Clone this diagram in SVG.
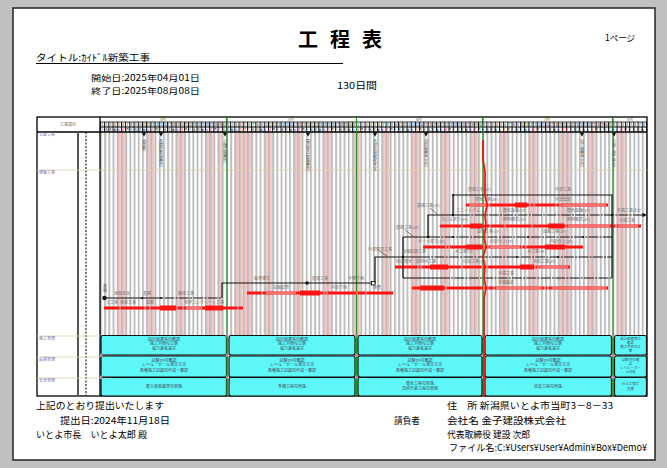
<svg xmlns="http://www.w3.org/2000/svg" width="667" height="468" viewBox="0 0 667 468">
<style>
text{font-family:"Noto Sans CJK JP","Noto Sans",sans-serif;}
.hd{font-size:9.5px;fill:#000;}
.hs{font-size:8.5px;fill:#000;}
.tn{font-size:4px;fill:#707070;}
.mn{font-size:3.3px;fill:#222;text-anchor:middle;font-family:"Liberation Sans",sans-serif;}
.wd{font-size:3.2px;fill:#222;letter-spacing:1px;}
.sa{fill:#2040ff;}
.su{fill:#ff2020;}
.net{fill:none;stroke:#111;stroke-width:1.2;}
.dsh{stroke-dasharray:10 1.2 2 1.2;}
.bar{fill:#ff1414;}
.gap{fill:#fff;}
.cy{fill:#5ef7f7;stroke:#111;stroke-width:1.2;}
.ct{font-size:4px;fill:#3a4a66;text-anchor:middle;}
.cs{font-size:3.4px;fill:#3a4a66;text-anchor:middle;}
.ms{writing-mode:vertical-rl;font-size:4px;fill:#555;}
.rl{font-size:4px;fill:#7a6aa0;}
.gl{stroke:#1e9a1e;stroke-width:1.2;}
.bg{stroke:#ddd2a8;stroke-width:0.8;}
.mk{fill:#9a9a9a;}
.nd{fill:#111;}
</style>
<defs>
<pattern id="pk" patternUnits="userSpaceOnUse" x="100" y="0" width="29.4" height="468"><rect x="16.8" y="0" width="8.4" height="468" fill="#f8c6c6"/></pattern>
<pattern id="dl" patternUnits="userSpaceOnUse" x="100" y="0" width="4.2" height="468"><rect x="0" y="0" width="1.9" height="468" fill="#bdbdbd"/></pattern>
<pattern id="cl" patternUnits="userSpaceOnUse" x="100" y="0" width="4.2" height="468"><rect x="0" y="0" width="0.9" height="468" fill="#000"/></pattern>
<text id="d30" class="mn"><tspan x="2.1">1</tspan><tspan x="6.3">2</tspan><tspan x="10.5">3</tspan><tspan x="14.7">4</tspan><tspan x="18.9">5</tspan><tspan x="23.1">6</tspan><tspan x="27.3">7</tspan><tspan x="31.5">8</tspan><tspan x="35.7">9</tspan><tspan x="39.9">10</tspan><tspan x="44.1">11</tspan><tspan x="48.3">12</tspan><tspan x="52.5">13</tspan><tspan x="56.7">14</tspan><tspan x="60.9">15</tspan><tspan x="65.1">16</tspan><tspan x="69.3">17</tspan><tspan x="73.5">18</tspan><tspan x="77.7">19</tspan><tspan x="81.9">20</tspan><tspan x="86.1">21</tspan><tspan x="90.3">22</tspan><tspan x="94.5">23</tspan><tspan x="98.7">24</tspan><tspan x="102.9">25</tspan><tspan x="107.1">26</tspan><tspan x="111.3">27</tspan><tspan x="115.5">28</tspan><tspan x="119.7">29</tspan><tspan x="123.9">30</tspan></text>
<g id="d31"><use href="#d30"/><text class="mn" x="128.1" y="0">31</text></g>
</defs>

<rect width="667" height="468" fill="#c0c0c0"/>
<rect x="13" y="8" width="642" height="452" fill="#fff" stroke="#222" stroke-width="1.5"/>

<g id="title">
<text x="298 330 362" y="47" font-size="20" font-weight="bold" fill="#000">工程表</text>
<text x="605" y="41" font-size="8.5" fill="#000">1ページ</text>
<text class="hd" x="36" y="61" font-size="9" textLength="114" lengthAdjust="spacingAndGlyphs">タイトル:ｶｲﾄﾞﾙ新築工事</text>
<line x1="36" y1="63.5" x2="343" y2="63.5" stroke="#000" stroke-width="1"/>
<text class="hs" x="91" y="81" textLength="109" lengthAdjust="spacingAndGlyphs">開始日:2025年04月01日</text>
<text class="hs" x="91" y="93.5" textLength="109" lengthAdjust="spacingAndGlyphs">終了日:2025年08月08日</text>
<text class="hd" x="337" y="88.5" textLength="40" lengthAdjust="spacingAndGlyphs">130日間</text>
</g>

<g id="chart-grid">
<rect x="100" y="132" width="547" height="264" fill="url(#pk)"/>
<rect x="217.6" y="132" width="4.2" height="264" fill="#f8c6c6"/>
<rect x="242.8" y="132" width="8.4" height="264" fill="#f8c6c6"/>
<rect x="566.2" y="132" width="4.2" height="264" fill="#f8c6c6"/>
<rect x="100" y="132" width="547" height="264" fill="url(#dl)"/>
</g>

<g id="header">
<rect x="100" y="122" width="547" height="10" fill="url(#cl)"/>
<line x1="100" y1="122" x2="647" y2="122" stroke="#000" stroke-width="0.8"/>
<line x1="100" y1="127" x2="647" y2="127" stroke="#000" stroke-width="1"/>
<line x1="37" y1="132" x2="647" y2="132" stroke="#000" stroke-width="1.3"/>
<path d="M226.5,117V122M356.5,117V122M482.5,117V122M612.7,117V122" stroke="#000" stroke-width="0.8"/>
<text class="tn" x="163" y="121" text-anchor="middle">4月</text>
<text class="tn" x="291" y="121" text-anchor="middle">5月</text>
<text class="tn" x="419" y="121" text-anchor="middle">6月</text>
<text class="tn" x="547" y="121" text-anchor="middle">7月</text>
<text class="tn" x="630" y="121" text-anchor="middle">8月</text>
<use href="#d30" x="100" y="126"/>
<use href="#d31" x="226" y="126"/>
<use href="#d30" x="356.2" y="126"/>
<use href="#d31" x="482.2" y="126"/>
<text class="mn" y="126"><tspan x="614.5">1</tspan><tspan x="618.7">2</tspan><tspan x="622.9">3</tspan><tspan x="627.1">4</tspan><tspan x="631.3">5</tspan><tspan x="635.5">6</tspan><tspan x="639.7">7</tspan><tspan x="643.9">8</tspan></text>
<text class="wd" x="100.5" y="131">火水木金<tspan class="sa">土</tspan><tspan class="su">日</tspan>月火水木金<tspan class="sa">土</tspan><tspan class="su">日</tspan>月火水木金<tspan class="sa">土</tspan><tspan class="su">日</tspan>月火水木金<tspan class="sa">土</tspan><tspan class="su">日</tspan>月<tspan class="su">火</tspan>水木金<tspan class="sa">土</tspan><tspan class="su">日</tspan><tspan class="su">月</tspan><tspan class="su">火</tspan>水木金<tspan class="sa">土</tspan><tspan class="su">日</tspan>月火水木金<tspan class="sa">土</tspan><tspan class="su">日</tspan>月火水木金<tspan class="sa">土</tspan><tspan class="su">日</tspan>月火水木金<tspan class="sa">土</tspan><tspan class="su">日</tspan>月火水木金<tspan class="sa">土</tspan><tspan class="su">日</tspan>月火水木金<tspan class="sa">土</tspan><tspan class="su">日</tspan>月火水木金<tspan class="sa">土</tspan><tspan class="su">日</tspan>月火水木金<tspan class="sa">土</tspan><tspan class="su">日</tspan>月火水木金<tspan class="sa">土</tspan><tspan class="su">日</tspan>月火水木金<tspan class="sa">土</tspan><tspan class="su">日</tspan>月火水木金<tspan class="sa">土</tspan><tspan class="su">日</tspan><tspan class="su">月</tspan>火水木金<tspan class="sa">土</tspan><tspan class="su">日</tspan>月火水木金<tspan class="sa">土</tspan><tspan class="su">日</tspan>月火水木金</text>
</g>

<g id="frame">
<rect x="37" y="117" width="610" height="279" fill="none" stroke="#000" stroke-width="1.3"/>
<line x1="100" y1="117" x2="100" y2="396" stroke="#000" stroke-width="1.3"/>
<line x1="78" y1="132" x2="78" y2="396" stroke="#555" stroke-width="2"/>
<line x1="86" y1="132" x2="86" y2="396" stroke="#222" stroke-width="1.2" stroke-dasharray="2 1.5"/>
<text class="tn" x="68" y="126" text-anchor="middle">工事項目</text>
<path class="bg" d="M37,170H647M37,336H100M37,357H100M37,378H100"/>
<text class="rl" x="39" y="136">主要工程</text>
<text class="rl" x="39" y="174">建築工事</text>
<text class="rl" x="39" y="340">施工管理</text>
<text class="rl" x="39" y="361">品質管理</text>
<text class="rl" x="39" y="382">安全管理</text>
<path class="gl" d="M227,117V396M356.5,117V396M483,117V396M613,117V396"/>
</g>

<g id="milestones">
<g id="ms1"><polygon class="nd" points="141.8,132.5 146.2,132.5 144,136.8"/><text class="ms" x="144" y="139">地鎮祭</text></g>
<g id="ms2"><polygon class="nd" points="158.8,132.5 163.2,132.5 161,136.8"/><text class="ms" x="161" y="139">基礎配筋検査日</text></g>
<g id="ms3"><polygon class="nd" points="222.8,132.5 227.2,132.5 225,136.8"/><text class="ms" x="225" y="139">上棟式検査日</text></g>
<g id="ms4"><polygon class="nd" points="305.8,132.5 310.2,132.5 308,136.8"/><text class="ms" x="308" y="139">構造体中間検査日</text></g>
<g id="ms5"><polygon class="nd" points="372.8,132.5 377.2,132.5 375,136.8"/><text class="ms" x="375" y="139">外部足場解体予定</text></g>
<g id="ms6"><polygon class="nd" points="423.8,132.5 428.2,132.5 426,136.8"/><text class="ms" x="426" y="139">消防検査予定日</text></g>
<g id="ms7"><polygon class="nd" points="579.8,132.5 584.2,132.5 582,136.8"/><text class="ms" x="582" y="139">完了検査予定日</text></g>
<g id="ms8"><polygon class="nd" points="611.8,132.5 616.2,132.5 614,136.8"/><text class="ms" x="614" y="139">引渡し竣工予定</text></g>
</g>

<g id="bars">
<g id="bar1"><rect class="bar" x="104" y="306.5" width="139" height="3"/><rect class="bar" x="160" y="305.5" width="16" height="5"/><rect class="bar" x="205" y="305.5" width="18" height="5"/><path d="M120,306.5v3M145,306.5v3M150,306.5v3M177,306.5v3M183,306.5v3M238,306.5v3" stroke="#fff" stroke-width="0.8"/><rect class="gap" x="186" y="307.6" width="16" height="0.8"/></g>
<g id="bar2"><rect class="bar" x="247" y="291.5" width="146" height="3"/><rect class="bar" x="300" y="290.5" width="20" height="5"/><path d="M262,291.5v3M324,291.5v3M327,291.5v3M357,291.5v3M366,291.5v3" stroke="#fff" stroke-width="0.8"/><rect class="gap" x="266" y="292.6" width="30" height="0.8"/></g>
<g id="bar3"><rect class="bar" x="395" y="265.5" width="175" height="3"/><rect class="bar" x="430" y="264.5" width="18" height="5"/><rect class="bar" x="520" y="264.5" width="14" height="5"/><path d="M418,265.5v3M421,265.5v3M462,265.5v3M482,265.5v3M487,265.5v3M535,265.5v3M538,265.5v3" stroke="#fff" stroke-width="0.8"/><rect class="gap" x="540" y="266.6" width="28" height="0.8"/></g>
<g id="bar4"><rect class="bar" x="423" y="245.5" width="160" height="3"/><rect class="bar" x="466" y="244.5" width="16" height="5"/><rect class="bar" x="545" y="244.5" width="20" height="5"/><path d="M446,245.5v3M449,245.5v3M484,245.5v3M488,245.5v3M522,245.5v3M526,245.5v3" stroke="#fff" stroke-width="0.8"/><rect class="gap" x="490" y="246.6" width="30" height="0.8"/></g>
<g id="bar5"><rect class="bar" x="440" y="224.5" width="201" height="3"/><rect class="bar" x="470" y="223.5" width="12" height="5"/><rect class="bar" x="548" y="223.5" width="16" height="5"/><path d="M462,224.5v3M486,224.5v3M490,224.5v3M505,224.5v3M532,224.5v3M566,224.5v3M612,224.5v3M616,224.5v3" stroke="#fff" stroke-width="0.8"/><rect class="gap" x="568" y="225.6" width="42" height="0.8"/><rect class="gap" x="618" y="225.6" width="20" height="0.8"/></g>
<g id="bar6"><rect class="bar" x="466" y="203.5" width="142" height="3"/><rect class="bar" x="515" y="202.5" width="12" height="5"/><path d="M470,203.5v3M486,203.5v3M489,203.5v3M530,203.5v3M534,203.5v3M556,203.5v3M560,203.5v3" stroke="#fff" stroke-width="0.8"/><rect class="gap" x="471" y="204.6" width="14" height="0.8"/><rect class="gap" x="562" y="204.6" width="44" height="0.8"/></g>
<g id="bar7"><rect class="bar" x="412" y="286.5" width="196" height="3"/><rect class="bar" x="420" y="285.5" width="24" height="5"/><path d="M446,286.5v3M484,286.5v3M488,286.5v3M494,286.5v3M545,286.5v3M548,286.5v3" stroke="#fff" stroke-width="0.8"/><rect class="gap" x="496" y="287.6" width="46" height="0.8"/><rect class="gap" x="552" y="287.6" width="54" height="0.8"/></g>
</g>

<g id="connectors">
<path class="net" d="M104,298H150M222,298V283H375V257H420M403,237V278M403,237H430M428,237V215H460M453,215V195H612V278M403,278H440"/>
<path class="net dsh" d="M150,298H222M420,257H612M430,237H612M460,215H645M440,278H612"/>
<polygon class="nd" points="642.5,212.8 647,215 642.5,217.2"/>
<circle class="nd" cx="104.5" cy="298" r="2.2"/>
<circle class="nd" cx="142" cy="298" r="1.1"/>
<circle class="nd" cx="161" cy="298" r="1.1"/>
<rect class="nd" x="305.5" y="281.5" width="3" height="3"/>
<rect x="371.5" y="281.5" width="3.5" height="3.5" fill="#fff" stroke="#111" stroke-width="0.9"/>
<circle class="nd" cx="403" cy="257" r="1.3"/>
<circle class="nd" cx="428" cy="237" r="1.3"/>
<circle class="nd" cx="453" cy="237" r="1.1"/>
<circle class="nd" cx="528" cy="237" r="1.1"/>
<circle class="nd" cx="583" cy="237" r="1.1"/>
<circle class="nd" cx="453" cy="215" r="1.3"/>
<circle class="nd" cx="612" cy="215" r="1.1"/>
<circle class="nd" cx="517" cy="257" r="1"/>
<circle class="nd" cx="558" cy="257" r="1"/>
<circle class="nd" cx="453" cy="195" r="1.1"/>
<path d="M430,208L437,214M405,230L413,236M379,251L387,256" stroke="#333" stroke-width="0.6"/>
</g>

<g id="task-labels">
<text class="ms" x="105" y="284">準備</text>
<text class="tn" x="114" y="295">地盤改良</text>
<text class="tn" x="143" y="295">基礎</text>
<text class="tn" x="178" y="295">躯体工事</text>
<text class="tn" x="106" y="303.5">土工事</text>
<text class="tn" x="120" y="303.5">地業工事</text>
<text class="tn" x="146" y="303.5">配筋</text>
<text class="tn" x="184" y="303.5">型枠コンクリート工事</text>
<text class="tn" x="254" y="279.5">鉄骨建方</text>
<text class="tn" x="312" y="279.5">屋根工事</text>
<text class="tn" x="348" y="279.5">外壁下地</text>
<text class="tn" x="273" y="289">設備配管</text>
<text class="tn" x="331" y="289">内装下地</text>
<text class="tn" x="373" y="289">検査</text>
<text class="tn" x="368" y="250.5">外部建具工事</text>
<text class="tn" x="402" y="253">設備配線工事</text>
<text class="tn" x="396" y="262.5">仮設電気・給排水工事</text>
<text class="tn" x="455" y="253">木工事(1F)</text>
<text class="tn" x="527" y="253">木工事(2F)</text>
<text class="tn" x="463" y="262.5">内装工事(1F)</text>
<text class="tn" x="533" y="262.5">内装工事(2F)</text>
<text class="tn" x="396" y="229">屋根工事(2F)</text>
<text class="tn" x="477" y="233">設備工事(1F)</text>
<text class="tn" x="543" y="233">設備工事(2F)</text>
<text class="tn" x="418" y="242.5">ボード張り(1F)</text>
<text class="tn" x="490" y="242.5">内装仕上(1F)</text>
<text class="tn" x="550" y="242.5">内装仕上(2F)</text>
<text class="tn" x="417" y="206.5">基礎工事(1F)</text>
<text class="tn" x="456" y="211.5">ユニットバス</text>
<text class="tn" x="503" y="211.5">電気設備(1F)</text>
<text class="tn" x="567" y="211.5">電気設備(2F)</text>
<text class="tn" x="441" y="221">クロス張り(1F)</text>
<text class="tn" x="503" y="221">照明器具(1F)</text>
<text class="tn" x="567" y="221">照明器具(2F)</text>
<text class="tn" x="617" y="211.5">外構工事ほか</text>
<text class="tn" x="619" y="222">外構工事</text>
<text class="tn" x="468" y="191">屋根工事(1F)</text>
<text class="tn" x="555" y="191">外部工事</text>
<text class="tn" x="475" y="200.5">屋根工事(2F)</text>
<text class="tn" x="555" y="200.5">外部塗装</text>
<text class="tn" x="498" y="274.5">外構工事</text>
<text class="tn" x="498" y="283.5">外構舗装</text>
</g>

<g id="management">
<g id="row-sekou">
<rect class="cy" x="101" y="335.5" width="125.5" height="19.5" rx="2"/>
<rect class="cy" x="229" y="335.5" width="126" height="19.5" rx="2"/>
<rect class="cy" x="358" y="335.5" width="124" height="19.5" rx="2"/>
<rect class="cy" x="485" y="335.5" width="126.5" height="19.5" rx="2"/>
<rect class="cy" x="614.5" y="335.5" width="32" height="19.5" rx="2"/>
<text class="ct" x="164" y="340.5">設計図書等の確認</text><text class="ct" x="164" y="345">施工手順の立案</text><text class="ct" x="164" y="349.5">協力業者選定</text>
<text class="ct" x="292" y="340.5">設計図書等の確認</text><text class="ct" x="292" y="345">施工手順の立案</text><text class="ct" x="292" y="349.5">協力業者選定</text>
<text class="ct" x="420" y="340.5">設計図書等の確認</text><text class="ct" x="420" y="345">施工手順の立案</text><text class="ct" x="420" y="349.5">協力業者選定</text>
<text class="ct" x="548" y="340.5">設計図書等の確認</text><text class="ct" x="548" y="345">施工手順の立案</text><text class="ct" x="548" y="349.5">協力業者選定</text>
<text class="cs" x="630.5" y="339.8">設計図書等の</text><text class="cs" x="630.5" y="344">確認</text><text class="cs" x="630.5" y="348.2">施工手順の立</text><text class="cs" x="630.5" y="352.4">案</text>
</g>
<g id="row-hinshitsu">
<rect class="cy" x="101" y="356" width="125.5" height="21" rx="2"/>
<rect class="cy" x="229" y="356" width="126" height="21" rx="2"/>
<rect class="cy" x="358" y="356" width="124" height="21" rx="2"/>
<rect class="cy" x="485" y="356" width="126.5" height="21" rx="2"/>
<rect class="cy" x="614.5" y="356" width="32" height="21" rx="2"/>
<text class="ct" x="164" y="361.5">試験TPの確認</text><text class="ct" x="164" y="366">レベル・ポール測定方法</text><text class="ct" x="164" y="371.5">各種施工記録の作成・確認</text>
<text class="ct" x="292" y="361.5">試験TPの確認</text><text class="ct" x="292" y="366">レベル・ポール測定方法</text><text class="ct" x="292" y="371.5">各種施工記録の作成・確認</text>
<text class="ct" x="420" y="361.5">試験TPの確認</text><text class="ct" x="420" y="366">レベル・ポール測定方法</text><text class="ct" x="420" y="371.5">各種施工記録の作成・確認</text>
<text class="ct" x="548" y="361.5">試験TPの確認</text><text class="ct" x="548" y="366">レベル・ポール測定方法</text><text class="ct" x="548" y="371.5">各種施工記録の作成・確認</text>
<text class="cs" x="630.5" y="360.6">試験TPの確</text><text class="cs" x="630.5" y="364.8">認</text><text class="cs" x="630.5" y="369">レベル・ポー</text><text class="cs" x="630.5" y="373.2">ル測定</text>
</g>
<g id="row-anzen">
<rect class="cy" x="101" y="377.5" width="125.5" height="18.5" rx="2"/>
<rect class="cy" x="229" y="377.5" width="126" height="18.5" rx="2"/>
<rect class="cy" x="358" y="377.5" width="124" height="18.5" rx="2"/>
<rect class="cy" x="485" y="377.5" width="126.5" height="18.5" rx="2"/>
<rect class="cy" x="614.5" y="377.5" width="32" height="18.5" rx="2"/>
<text class="ct" x="164" y="388">新入場者教育の実施</text>
<text class="ct" x="292" y="388">重機工程の実施</text>
<text class="ct" x="420" y="385">電気工程の実施</text><text class="ct" x="420" y="390">高所作業工程の実施</text>
<text class="ct" x="548" y="388">塗装工程の実施</text>
<text class="cs" x="630.5" y="385">仕上工程の</text><text class="cs" x="630.5" y="390">実施</text>
</g>
<path class="gl" d="M227,334V396M356.5,334V396M613,334V396"/>
<path class="mk" d="M100,353.5h2.5v3.5h-2.5zM100,375.5h2.5v3.5h-2.5zM225.8,334h2.5v3.5h-2.5zM225.8,353.5h2.5v3.5h-2.5zM225.8,375.5h2.5v3.5h-2.5zM355.3,334h2.5v3.5h-2.5zM355.3,353.5h2.5v3.5h-2.5zM355.3,375.5h2.5v3.5h-2.5zM481.8,334h2.5v3.5h-2.5zM481.8,353.5h2.5v3.5h-2.5zM481.8,375.5h2.5v3.5h-2.5zM611.8,334h2.5v3.5h-2.5zM611.8,353.5h2.5v3.5h-2.5zM611.8,375.5h2.5v3.5h-2.5z"/>
</g>

<g id="progress-line">
<polyline points="483,140 483,160 485,172 485,195 487,205 485,215 486,226 484,237 486,247 483,257 485,267 484,278 486,288 484,298 484,396" fill="none" stroke="#ff1010" stroke-width="1.8"/>
</g>

<g id="footer">
<text class="hd" x="36" y="409" textLength="128" lengthAdjust="spacingAndGlyphs">上記のとおり提出いたします</text>
<text class="hd" x="60" y="424" textLength="110" lengthAdjust="spacingAndGlyphs">提出日:2024年11月18日</text>
<text class="hd" x="36" y="438" textLength="111" lengthAdjust="spacingAndGlyphs">いとよ市長　いとよ太郎 殿</text>
<text class="hd" x="394" y="424" textLength="26" lengthAdjust="spacingAndGlyphs">請負者</text>
<text class="hd" x="447" y="409" textLength="166" lengthAdjust="spacingAndGlyphs">住　所 新潟県いとよ市当町3－8－33</text>
<text class="hd" x="447" y="424" textLength="119" lengthAdjust="spacingAndGlyphs">会社名 金子建設株式会社</text>
<text class="hd" x="447" y="438" textLength="83" lengthAdjust="spacingAndGlyphs">代表取締役 建設 次郎</text>
<text class="hd" x="449" y="451" textLength="198" lengthAdjust="spacingAndGlyphs">ファイル名:C:¥Users¥User¥Admin¥Box¥Demo¥</text>
</g>
</svg>
